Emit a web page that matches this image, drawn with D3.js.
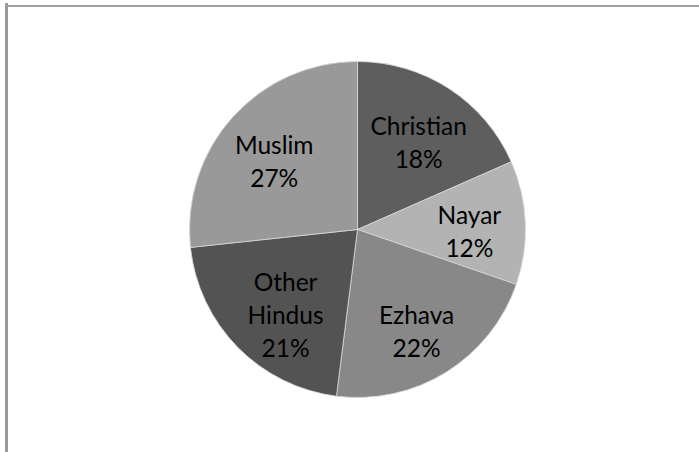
<!DOCTYPE html>
<html>
<head>
<meta charset="utf-8">
<script src="https://cdn.jsdelivr.net/npm/d3@7"></script>
<style>
  body { margin: 0; background: #fff; }
  svg { display: block; }
</style>
</head>
<body>
<svg id="pieChart" width="699" height="452"></svg>
<script>
// slice data, clockwise from 12 o'clock
var groups = ["Christian", "Nayar", "Ezhava", "Other Hindus", "Muslim"];
var shares = [18.4, 11.9, 21.7, 21.3, 26.7];
var pctLabels = ["18%", "12%", "22%", "21%", "27%"];
var fills = ["#5e5e5e", "#b3b3b3", "#888888", "#535353", "#999999"];

drawPie = function () {
    var svg = d3.select("#pieChart");

    // frame lines (top and left)
    svg.append("rect")
        .attr("x", 6).attr("y", 5)
        .attr("width", 693).attr("height", 2)
        .attr("fill", "#a0a0a0");
    svg.append("rect")
        .attr("x", 5).attr("y", 3)
        .attr("width", 3).attr("height", 449)
        .attr("fill", "#9a9a9a");

    var cx = 357.5, cy = 229.5, radius = 168;

    var g = svg.append("g")
        .attr("transform", "translate(" + cx + "," + cy + ")");

    var data = groups.map(function (d, i) {
        return { name: d, value: shares[i], pct: pctLabels[i], fill: fills[i] };
    });

    var pie = d3.pie()
        .sort(null)
        .value(function (d) { return d.value; });

    var arcs = pie(data);

    var arcGenerator = d3.arc()
        .innerRadius(0)
        .outerRadius(radius);

    var labelArc = d3.arc()
        .innerRadius(112)
        .outerRadius(112);

    g.selectAll("path.slice")
        .data(arcs)
        .enter()
        .append("path")
        .attr("class", "slice")
        .attr("d", arcGenerator)
        .attr("fill", function (d) { return d.data.fill; })
        .attr("stroke", "#d8d8d8")
        .attr("stroke-width", 0.8);

    var lineH = 33;
    var labels = g.selectAll("text.lbl")
        .data(arcs)
        .enter()
        .append("text")
        .attr("class", "lbl")
        .attr("text-anchor", "middle")
        .style("font-family", "Lato, 'Open Sans', sans-serif")
        .style("font-size", "24.5px")
        .style("fill", "#000");

    labels.each(function (d) {
        var lines = d.data.name.split(" ").concat([d.data.pct]);
        var c = labelArc.centroid(d);
        // keep the taller blocks inside the pie
        var x = c[0] * (lines.length > 2 ? 0.9 : 1);
        var top = c[1] - (lines.length - 1) * lineH / 2 + 16;
        var t = d3.select(this);
        lines.forEach(function (ln, i) {
            t.append("tspan")
                .attr("x", x)
                .attr("y", top + i * lineH)
                .text(ln);
        });
    });
}

drawPie();
</script>
</body>
</html>
